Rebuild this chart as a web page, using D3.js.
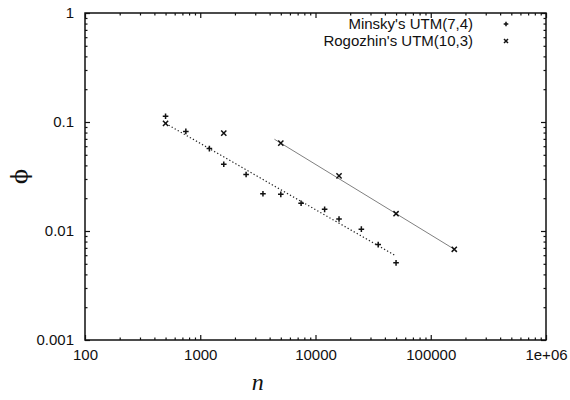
<!DOCTYPE html>
<html>
<head>
<meta charset="utf-8">
<script src="https://cdn.jsdelivr.net/npm/d3@7"></script>
<style>
  body { margin: 0; background: #fff; }
  svg { display: block; }
  .tick text { font-family: "Liberation Sans", Arial, sans-serif; font-size: 15px; fill: #111; }
</style>
</head>
<body>
<svg id="chart" width="570" height="400"></svg>
<script>
// Measured phi against machine size n for two universal Turing machines
const minskyN   = [500, 750, 1200, 1600, 2500, 3500, 5000, 7500, 12000, 16000, 25000, 35000, 50000];
const minskyPhi = [0.113, 0.082, 0.057, 0.041, 0.033, 0.022, 0.0217, 0.018, 0.0158, 0.0129, 0.0104, 0.0075, 0.0051];

const rogozhinN   = [500, 1600, 5000, 16000, 50000, 160000];
const rogozhinPhi = [0.097, 0.079, 0.064, 0.032, 0.0144, 0.0068];

// Power-law fit lines (end points)
const minskyFitN   = [500, 50000];
const minskyFitPhi = [0.097, 0.0059];
const rogozhinFitN   = [4400, 160000];
const rogozhinFitPhi = [0.0695, 0.0068];

const xTicks = [100, 1000, 10000, 100000, 1000000];
const xTickLabels = ["100", "1000", "10000", "100000", "1e+06"];
const yTicks = [0.001, 0.01, 0.1, 1];
const yTickLabels = ["0.001", "0.01", "0.1", "1"];

const seriesNames = ["Minsky's UTM(7,4)", "Rogozhin's UTM(10,3)"];

const svg = d3.select("#chart");
const L = 85, R = 546, T = 13, B = 340;

const x = d3.scaleLog().domain([100, 1e6]).range([L, R]);
const y = d3.scaleLog().domain([0.001, 1]).range([B, T]);

// minor tick values: 2..9 within each decade
function minors(lo, hi) {
  const out = [];
  for (let d = lo; d < hi; d *= 10)
    for (let k = 2; k <= 9; k++) out.push(d * k);
  return out;
}
const xMinor = minors(100, 1e6);
const yMinor = minors(0.001, 1);

const g = svg.append("g");

function axisStyle(sel) {
  sel.select(".domain").remove();
  sel.selectAll(".tick line").attr("stroke", "#111").attr("stroke-width", 1.2);
}

// bottom axis with labels
g.append("g").attr("transform", `translate(0,${B})`)
  .call(d3.axisBottom(x).tickValues(xTicks).tickFormat((d, i) => xTickLabels[i]).tickSize(-5).tickPadding(9))
  .call(axisStyle);
g.append("g").attr("transform", `translate(0,${B})`)
  .call(d3.axisBottom(x).tickValues(xMinor).tickFormat("").tickSize(-2.5))
  .call(axisStyle);
// top axis (ticks only)
g.append("g").attr("transform", `translate(0,${T})`)
  .call(d3.axisTop(x).tickValues(xTicks).tickFormat("").tickSize(-5))
  .call(axisStyle);
g.append("g").attr("transform", `translate(0,${T})`)
  .call(d3.axisTop(x).tickValues(xMinor).tickFormat("").tickSize(-2.5))
  .call(axisStyle);
// left axis with labels
g.append("g").attr("transform", `translate(${L},0)`)
  .call(d3.axisLeft(y).tickValues(yTicks).tickFormat((d, i) => yTickLabels[i]).tickSize(-5).tickPadding(11))
  .call(axisStyle);
g.append("g").attr("transform", `translate(${L},0)`)
  .call(d3.axisLeft(y).tickValues(yMinor).tickFormat("").tickSize(-2.5))
  .call(axisStyle);
// right axis (ticks only)
g.append("g").attr("transform", `translate(${R},0)`)
  .call(d3.axisRight(y).tickValues(yTicks).tickFormat("").tickSize(-5))
  .call(axisStyle);
g.append("g").attr("transform", `translate(${R},0)`)
  .call(d3.axisRight(y).tickValues(yMinor).tickFormat("").tickSize(-2.5))
  .call(axisStyle);

// frame
g.append("rect").attr("x", L).attr("y", T).attr("width", R - L).attr("height", B - T)
  .attr("fill", "none").attr("stroke", "#111").attr("stroke-width", 1.5);

// axis titles
svg.append("text").attr("x", x(3162)).attr("y", 390)
  .attr("text-anchor", "middle")
  .attr("font-family", "'Liberation Serif', 'DejaVu Serif', serif")
  .attr("font-style", "italic").attr("font-size", 24).attr("fill", "#111")
  .text("n");
svg.append("text")
  .attr("transform", `translate(27,${y(0.0316)}) rotate(-90)`)
  .attr("text-anchor", "middle")
  .attr("font-family", "'DejaVu Serif', serif")
  .attr("font-size", 22).attr("fill", "#111")
  .text("\u03D5");

// fit lines
const line = d3.line().x(d => x(d[0])).y(d => y(d[1]));
g.append("path").datum(minskyFitN.map((n, i) => [n, minskyFitPhi[i]]))
  .attr("d", line).attr("fill", "none").attr("stroke", "#222")
  .attr("stroke-width", 1.2).attr("stroke-dasharray", "1.3,2.2");
g.append("path").datum(rogozhinFitN.map((n, i) => [n, rogozhinFitPhi[i]]))
  .attr("d", line).attr("fill", "none").attr("stroke", "#808080")
  .attr("stroke-width", 1);

// marker shapes
function plus(sel, s) {
  sel.append("path").attr("d", `M${-s},0H${s}M0,${-s}V${s}`)
    .attr("stroke", "#111").attr("stroke-width", 1.5).attr("fill", "none");
}
function cross(sel, s) {
  sel.append("path").attr("d", `M${-s},${-s}L${s},${s}M${-s},${s}L${s},${-s}`)
    .attr("stroke", "#111").attr("stroke-width", 1.5).attr("fill", "none");
}

g.append("g").selectAll("g").data(minskyN.map((n, i) => [n, minskyPhi[i]])).join("g")
  .attr("transform", d => `translate(${x(d[0])},${y(d[1])})`)
  .each(function () { plus(d3.select(this), 2.8); });
g.append("g").selectAll("g").data(rogozhinN.map((n, i) => [n, rogozhinPhi[i]])).join("g")
  .attr("transform", d => `translate(${x(d[0])},${y(d[1])})`)
  .each(function () { cross(d3.select(this), 2.6); });

// legend
const legend = svg.append("g");
const legY = [24, 41];
seriesNames.forEach((name, i) => {
  legend.append("text").attr("x", 473).attr("y", legY[i]).attr("dy", "0.35em")
    .attr("text-anchor", "end")
    .attr("font-family", "'Liberation Sans', Arial, sans-serif")
    .attr("font-size", 15).attr("fill", "#111").text(name);
  const m = legend.append("g").attr("transform", `translate(506,${legY[i]})`);
  if (i === 0) plus(m, 2.3); else cross(m, 2);
});
</script>
</body>
</html>
